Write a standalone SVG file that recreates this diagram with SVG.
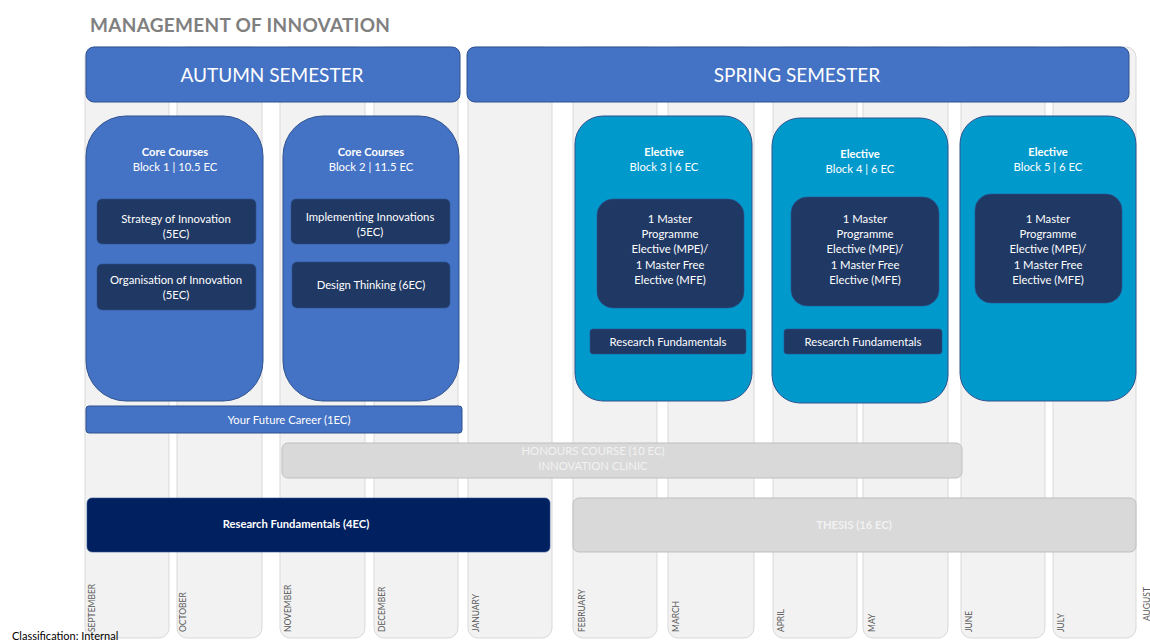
<svg xmlns="http://www.w3.org/2000/svg" width="1150" height="643" viewBox="0 0 1150 643">
<style>
text{font-family:Lato,"Liberation Sans",sans-serif;}
.col{fill:#f2f2f2;stroke:#d9d9d9;stroke-width:1;}
.mon{font-size:8.5px;fill:#595959;}
.hdr{fill:#4472c4;stroke:#2f528f;stroke-width:1;}
.hdrt{font-size:19px;fill:#fff;text-anchor:middle;}
.core{fill:#4472c4;stroke:#2f528f;stroke-width:1;}
.elec{fill:#0099cc;stroke:#2f528f;stroke-width:1;}
.inner{fill:#1f3864;stroke:#2f528f;stroke-width:0.6;}
.t{font-size:11.3px;fill:#fff;text-anchor:middle;}
.tb{font-size:11.2px;fill:#fff;text-anchor:middle;font-weight:bold;}
.grey{fill:#d9d9d9;stroke:#bfbfbf;stroke-width:1;}
</style>
<rect width="1150" height="643" fill="#fff"/>
<text x="90" y="32" font-size="19" font-weight="bold" fill="#7f7f7f" textLength="300">MANAGEMENT OF INNOVATION</text>
<g id="columns">
<rect class="col" x="85" y="47" width="84" height="591" rx="10"/>
<rect class="col" x="177" y="47" width="85" height="591" rx="10"/>
<rect class="col" x="280" y="47" width="85" height="591" rx="10"/>
<rect class="col" x="374" y="47" width="84" height="591" rx="10"/>
<rect class="col" x="468" y="47" width="84" height="591" rx="10"/>
<rect class="col" x="573" y="47" width="84" height="591" rx="10"/>
<rect class="col" x="668" y="47" width="86" height="591" rx="10"/>
<rect class="col" x="773" y="47" width="84" height="591" rx="10"/>
<rect class="col" x="863" y="47" width="85" height="591" rx="10"/>
<rect class="col" x="961" y="47" width="84" height="591" rx="10"/>
<rect class="col" x="1053" y="47" width="83" height="591" rx="10"/>
<text class="mon" transform="translate(95,632) rotate(-90)">SEPTEMBER</text>
<text class="mon" transform="translate(186,632) rotate(-90)">OCTOBER</text>
<text class="mon" transform="translate(291,632) rotate(-90)">NOVEMBER</text>
<text class="mon" transform="translate(385,632) rotate(-90)">DECEMBER</text>
<text class="mon" transform="translate(479,632) rotate(-90)">JANUARY</text>
<text class="mon" transform="translate(585,632) rotate(-90)">FEBRUARY</text>
<text class="mon" transform="translate(679,632) rotate(-90)">MARCH</text>
<text class="mon" transform="translate(784,632) rotate(-90)">APRIL</text>
<text class="mon" transform="translate(875,632) rotate(-90)">MAY</text>
<text class="mon" transform="translate(972,632) rotate(-90)">JUNE</text>
<text class="mon" transform="translate(1064,632) rotate(-90)">JULY</text>
<text class="mon" transform="translate(1150,621) rotate(-90)">AUGUST</text>
</g>
<g id="autumn">
<rect class="hdr" x="86" y="47" width="374" height="55" rx="8"/>
<text class="hdrt" x="272" y="82">AUTUMN SEMESTER</text>
</g>
<g id="spring">
<rect class="hdr" x="467" y="47" width="662" height="55" rx="8"/>
<text class="hdrt" x="797" y="82">SPRING SEMESTER</text>
</g>
<g id="block1">
<rect class="core" x="86" y="116" width="177" height="285" rx="40"/>
<text class="tb" x="175" y="156">Core Courses</text>
<text class="t" x="175" y="171">Block 1 | 10.5 EC</text>
<g id="strategy">
<rect class="inner" x="97" y="199" width="159" height="45" rx="5"/>
<text class="t" x="176" y="223">Strategy of Innovation</text>
<text class="t" x="176" y="238">(5EC)</text>
</g>
<g id="organisation">
<rect class="inner" x="97" y="264" width="159" height="46" rx="5"/>
<text class="t" x="176" y="284">Organisation of Innovation</text>
<text class="t" x="176" y="299">(5EC)</text>
</g>
</g>
<g id="block2">
<rect class="core" x="283" y="116" width="176" height="285" rx="40"/>
<text class="tb" x="371" y="156">Core Courses</text>
<text class="t" x="371" y="171">Block 2 | 11.5 EC</text>
<g id="implementing">
<rect class="inner" x="291" y="199" width="159" height="45" rx="5"/>
<text class="t" x="370" y="221">Implementing Innovations</text>
<text class="t" x="370" y="236">(5EC)</text>
</g>
<g id="design">
<rect class="inner" x="292" y="262" width="158" height="46" rx="5"/>
<text class="t" x="371" y="289">Design Thinking (6EC)</text>
</g>
</g>
<g id="block3">
<rect class="elec" x="575" y="116" width="177" height="285" rx="28"/>
<text class="tb" x="664" y="156">Elective</text>
<text class="t" x="664" y="171">Block 3 | 6 EC</text>
<g id="mpe3">
<rect class="inner" x="597" y="199" width="147" height="109" rx="16"/>
<text class="t" x="670" y="223">1 Master</text>
<text class="t" x="670" y="238">Programme</text>
<text class="t" x="670" y="253">Elective (MPE)/</text>
<text class="t" x="670" y="269">1 Master Free</text>
<text class="t" x="670" y="284">Elective (MFE)</text>
</g>
<g id="rf3">
<rect class="inner" x="590" y="329" width="156" height="25" rx="3"/>
<text class="t" x="668" y="346">Research Fundamentals</text>
</g>
</g>
<g id="block4">
<rect class="elec" x="772" y="118" width="176" height="285" rx="28"/>
<text class="tb" x="860" y="158">Elective</text>
<text class="t" x="860" y="173">Block 4 | 6 EC</text>
<g id="mpe4">
<rect class="inner" x="791" y="197" width="148" height="109" rx="16"/>
<text class="t" x="865" y="223">1 Master</text>
<text class="t" x="865" y="238">Programme</text>
<text class="t" x="865" y="253">Elective (MPE)/</text>
<text class="t" x="865" y="269">1 Master Free</text>
<text class="t" x="865" y="284">Elective (MFE)</text>
</g>
<g id="rf4">
<rect class="inner" x="784" y="329" width="158" height="25" rx="3"/>
<text class="t" x="863" y="346">Research Fundamentals</text>
</g>
</g>
<g id="block5">
<rect class="elec" x="960" y="116" width="176" height="285" rx="28"/>
<text class="tb" x="1048" y="156">Elective</text>
<text class="t" x="1048" y="171">Block 5 | 6 EC</text>
<g id="mpe5">
<rect class="inner" x="975" y="194" width="147" height="109" rx="16"/>
<text class="t" x="1048" y="223">1 Master</text>
<text class="t" x="1048" y="238">Programme</text>
<text class="t" x="1048" y="253">Elective (MPE)/</text>
<text class="t" x="1048" y="269">1 Master Free</text>
<text class="t" x="1048" y="284">Elective (MFE)</text>
</g>
</g>
<g id="career">
<rect class="core" x="86" y="406" width="376" height="27" rx="3"/>
<text class="t" x="289" y="424">Your Future Career (1EC)</text>
</g>
<g id="honours">
<rect class="grey" x="282" y="443" width="680" height="35" rx="6"/>
<text class="t" x="593" y="455" style="fill:#f2f2f2">HONOURS COURSE (10 EC)</text>
<text class="t" x="593" y="470" style="fill:#f2f2f2">INNOVATION CLINIC</text>
</g>
<g id="research">
<rect x="87" y="498" width="463" height="54" rx="5" fill="#002060" stroke="#2f528f" stroke-width="0.6"/>
<text class="tb" x="296" y="528">Research Fundamentals (4EC)</text>
</g>
<g id="thesis">
<rect class="grey" x="573" y="498" width="563" height="54" rx="6"/>
<text class="tb" x="854" y="529" style="fill:#f2f2f2">THESIS (16 EC)</text>
</g>
<g id="connectors"></g>
<text x="12" y="640" font-size="11" fill="#000">Classification: Internal</text>
</svg>
